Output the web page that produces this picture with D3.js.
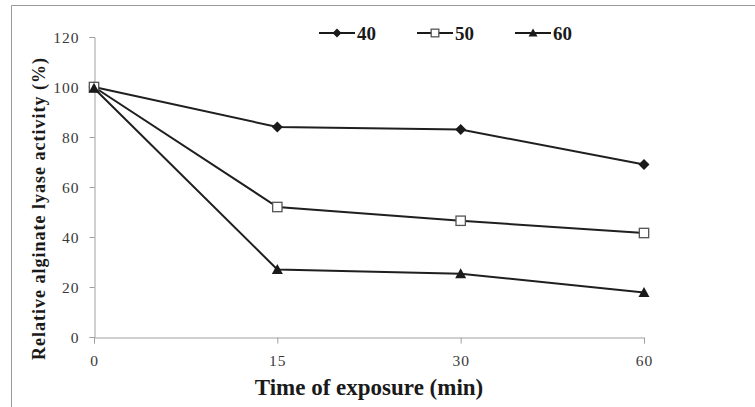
<!DOCTYPE html>
<html><head><meta charset="utf-8">
<script src="https://cdn.jsdelivr.net/npm/d3@7"></script>
<style>body{margin:0;background:#fff}svg{display:block}</style>
</head><body>
<svg id="c" width="755" height="407"></svg>
<script>
const categories = ["0","15","30","60"];
const seriesNames = ["40","50","60"];
const s40 = [100, 84, 83, 69];
const s50 = [100, 52, 46.5, 41.6];
const s60 = [99.5, 27, 25.3, 17.8];
const yTicks = [0,20,40,60,80,100,120];

const series = [
  {name: seriesNames[0], values: s40, shape: "diamond"},
  {name: seriesNames[1], values: s50, shape: "square"},
  {name: seriesNames[2], values: s60, shape: "triangle"}
];

const SERIF = "'Liberation Serif', 'Times New Roman', serif";
const svg = d3.select("#c");
// frame
svg.append("line").attr("x1",11.5).attr("x2",755).attr("y1",5.5).attr("y2",5.5).attr("stroke","#999");
svg.append("line").attr("x1",11.5).attr("x2",11.5).attr("y1",5.5).attr("y2",407).attr("stroke","#999");

const x = d3.scalePoint().domain(categories).range([94, 644]);
const y = d3.scaleLinear().domain([0,120]).range([337, 37]);

const axisColor = "#a0a0a0";
const yAxis = svg.append("g").attr("transform","translate(94.5,0)")
  .call(d3.axisLeft(y).tickValues(yTicks).tickSize(5).tickPadding(10).tickFormat(d3.format("d")));
const xAxis = svg.append("g").attr("transform","translate(0,337.5)")
  .call(d3.axisBottom(x).tickSize(6).tickPadding(11));
[yAxis, xAxis].forEach(a => {
  a.select(".domain").attr("stroke", axisColor);
  a.selectAll(".tick line").attr("stroke", axisColor);
  a.selectAll("text").attr("fill","#3a3a3a").style("font-family",SERIF).style("font-size","15.5px")
    .style("letter-spacing","1px");
});
yAxis.selectAll(".tick text").attr("dy","0.35em");

function marker(g, shape, cx, cy, r) {
  if (shape === "diamond") {
    g.append("path").attr("d", `M${cx},${cy-r}L${cx+r},${cy}L${cx},${cy+r}L${cx-r},${cy}Z`)
      .attr("fill","#1a1a1a");
  } else if (shape === "square") {
    const h = r*0.85;
    g.append("rect").attr("x",cx-h).attr("y",cy-h).attr("width",2*h).attr("height",2*h)
      .attr("fill","#fff").attr("stroke","#555").attr("stroke-width",1.3);
  } else {
    g.append("path").attr("d", `M${cx},${cy-r}L${cx+r},${cy+r*0.8}L${cx-r},${cy+r*0.8}Z`)
      .attr("fill","#1a1a1a");
  }
}

const line = d3.line().x((d,i)=>x(categories[i])).y(d=>y(d));
series.forEach(s => {
  const g = svg.append("g");
  g.append("path").attr("d", line(s.values)).attr("fill","none").attr("stroke","#1f1f1f").attr("stroke-width",2);
  s.values.forEach((v,i) => marker(g, s.shape, x(categories[i]), y(v), 5.5));
});

function boldText(sel, size) {
  return sel.style("font-family",SERIF).style("font-size",size+"px").style("font-weight","bold")
    .attr("fill","#1a1a1a");
}

// legend
const legX = [319, 417, 515];
series.forEach((s,i) => {
  const g = svg.append("g");
  const ly = 33;
  g.append("line").attr("x1",legX[i]).attr("x2",legX[i]+36).attr("y1",ly).attr("y2",ly).attr("stroke","#1a1a1a").attr("stroke-width",2);
  marker(g, s.shape, legX[i]+18, ly, 4.5);
  boldText(g.append("text").attr("x",legX[i]+38).attr("y",ly).attr("dy","0.35em"), 19).text(s.name);
});

// axis titles
boldText(svg.append("text").attr("x",369).attr("y",395).attr("text-anchor","middle"), 23)
  .text("Time of exposure (min)");
boldText(svg.append("text").attr("transform","translate(45,208.5) rotate(-90)").attr("text-anchor","middle"), 18)
  .style("letter-spacing","1px")
  .text("Relative alginate lyase activity (%)");
</script>
</body></html>
